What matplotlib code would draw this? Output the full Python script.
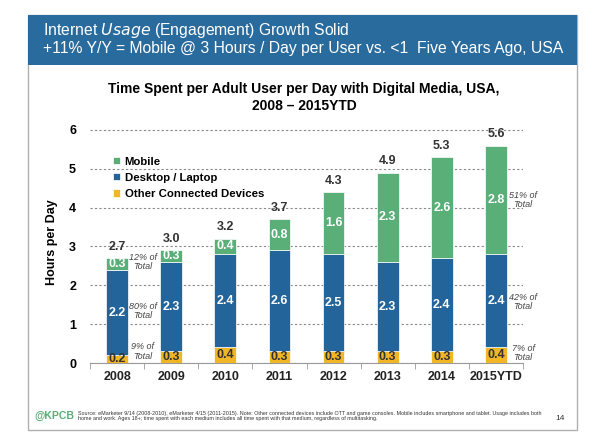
import numpy as np
import matplotlib.pyplot as plt
from matplotlib.patches import Rectangle

plt.rcParams['font.family'] = ['Liberation Sans', 'DejaVu Sans']

years = ['2008', '2009', '2010', '2011', '2012', '2013', '2014', '2015YTD']
mobile = [0.3, 0.3, 0.4, 0.8, 1.6, 2.3, 2.6, 2.8]
desktop = [2.2, 2.3, 2.4, 2.6, 2.5, 2.3, 2.4, 2.4]
other = [0.2, 0.3, 0.4, 0.3, 0.3, 0.3, 0.3, 0.4]
totals = [2.7, 3.0, 3.2, 3.7, 4.3, 4.9, 5.3, 5.6]

c_mob = '#5aae78'
c_desk = '#23649a'
c_oth = '#f1b626'

W, H = 598, 445
fig = plt.figure(figsize=(5.98, 4.45), dpi=100)
fig.patch.set_facecolor('white')

def px(x, y):
    return x / W, 1 - y / H

# slide frame + header band
fig.add_artist(Rectangle(px(28, 430), 549 / W, 415 / H, transform=fig.transFigure,
                         fill=False, edgecolor='#b0b0b0', lw=1.0))
fig.add_artist(Rectangle(px(28, 65), 549 / W, 50 / H, transform=fig.transFigure,
                         facecolor='#2a6b9e', edgecolor='none'))
fig.text(*px(43, 31), 'Internet $\\it{Usage}$ (Engagement) Growth Solid', color='white',
         fontsize=11.3, va='center', ha='left')
fig.text(*px(43, 49), '+11% Y/Y = Mobile @ 3 Hours / Day per User vs. <1  Five Years Ago, USA',
         color='white', fontsize=11.3, va='center', ha='left')

fig.text(*px(304, 89), 'Time Spent per Adult User per Day with Digital Media, USA,',
         fontsize=10, fontweight='bold', ha='center', va='center')
fig.text(*px(304, 106), '2008 \u2013 2015YTD', fontsize=10, fontweight='bold',
         ha='center', va='center')

ax = fig.add_axes([90 / W, 82 / H, 433 / W, 240.8 / H])
x = np.arange(len(years))
w = 0.4
ax.bar(x, other, w, color=c_oth, label='Other Connected Devices', zorder=3,
       edgecolor='white', linewidth=0.5)
ax.bar(x, desktop, w, bottom=other, color=c_desk, label='Desktop / Laptop', zorder=3,
       edgecolor='white', linewidth=0.5)
bot2 = np.array(other) + np.array(desktop)
ax.bar(x, mobile, w, bottom=bot2, color=c_mob, label='Mobile', zorder=3,
       edgecolor='white', linewidth=0.5)

for i in range(len(years)):
    ax.text(x[i], other[i] / 2, f'{other[i]:.1f}', ha='center', va='center',
            fontsize=9, fontweight='bold', color='#333333', zorder=4)
    ax.text(x[i], other[i] + desktop[i] / 2, f'{desktop[i]:.1f}', ha='center', va='center',
            fontsize=9, fontweight='bold', color='white', zorder=4)
    ax.text(x[i], bot2[i] + mobile[i] / 2, f'{mobile[i]:.1f}', ha='center', va='center',
            fontsize=9, fontweight='bold', color='white', zorder=4)
    ax.text(x[i], bot2[i] + mobile[i] + 0.14, f'{totals[i]:.1f}', ha='center', va='bottom',
            fontsize=9, fontweight='bold', color='#333333', zorder=4)

# share notes
notes_l = [(2.6, '12% of\nTotal'), (1.34, '80% of\nTotal'), (0.3, '9% of\nTotal')]
notes_r = [(4.2, '51% of\nTotal'), (1.57, '42% of\nTotal'), (0.26, '7% of\nTotal')]
for yv, t in notes_l:
    ax.text(0.47, yv, t, ha='center', va='center', fontsize=6.5, style='italic',
            color='#444444', linespacing=1.1)
for yv, t in notes_r:
    ax.text(7.5, yv, t, ha='center', va='center', fontsize=6.5, style='italic',
            color='#444444', linespacing=1.1, clip_on=False)

ax.set_xlim(-0.5, 7.5)
ax.set_ylim(0, 6.2)
ax.set_yticks(range(7))
ax.yaxis.grid(True, linestyle=(0, (2, 2)), color='#888888', lw=0.8, zorder=0)
for s in ['left', 'right', 'top']:
    ax.spines[s].set_visible(False)
ax.spines['bottom'].set_color('#999999')
ax.set_xticks(x)
ax.set_xticklabels(years, fontsize=9, fontweight='bold', color='#222222')
ax.set_xticks(np.arange(-0.5, 8, 1), minor=True)
ax.tick_params(axis='x', which='major', length=0, pad=6)
ax.tick_params(axis='x', which='minor', length=4, color='#999999')
ax.tick_params(axis='y', length=0, pad=10)
for lb in ax.get_yticklabels():
    lb.set_fontweight('bold')
    lb.set_fontsize(9)
ax.set_ylabel('Hours per Day', fontsize=9, fontweight='bold', labelpad=8)

h, l = ax.get_legend_handles_labels()
ax.legend(h[::-1], l[::-1], loc='upper left', bbox_to_anchor=(0.03, 0.9), frameon=False,
          prop={'weight': 'bold', 'size': 8.2}, handlelength=0.6,
          handleheight=0.6, handletextpad=0.4, labelspacing=0.55)

# footer
fig.text(*px(34, 416), '@KPCB', color='#5aae78', fontsize=7.6, fontweight='bold',
         va='center', ha='left')
fig.text(*px(78, 416),
         'Source: eMarketer 9/14 (2008-2010), eMarketer 4/15 (2011-2015). Note: Other connected devices include OTT and game consoles. Mobile includes smartphone and tablet. Usage includes both\n'
         'home and work. Ages 18+; time spent with each medium includes all time spent with that medium, regardless of multitasking.',
         fontsize=3.85, va='center', ha='left', color='#333333', linespacing=1.2)
fig.text(*px(560, 418), '14', fontsize=6, va='center', ha='center', color='#333333')

fig.savefig('out.png', dpi=100)
